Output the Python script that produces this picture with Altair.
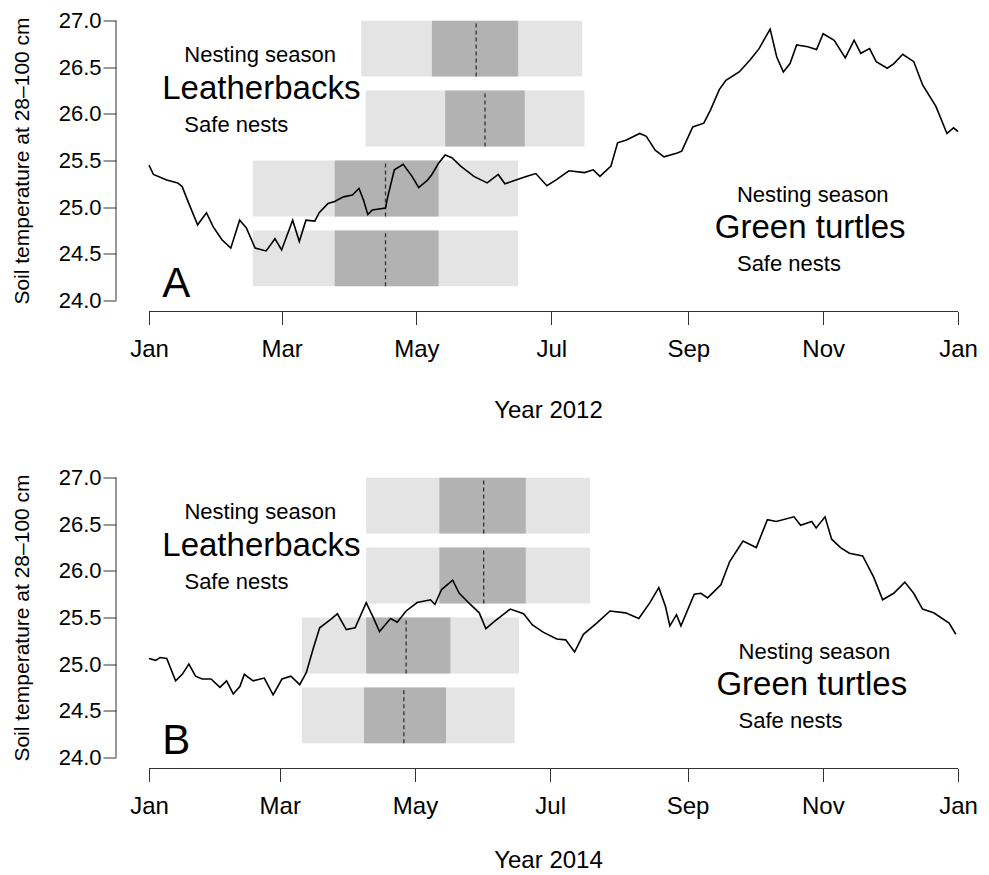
import altair as alt
import pandas as pd

# ---------------- data ----------------
# Panel A (2012): day offset from 1 Jan, soil temperature
day_2012 = [0, 2, 8, 13, 15, 18, 22, 26, 29, 33, 37, 41, 44, 48, 53, 57, 60, 65, 68, 71,
            75, 77, 81, 84, 88, 92, 95, 97, 99, 101, 107, 108, 111, 115, 119, 122, 126, 128, 131, 134,
            137, 141, 147, 153, 158, 161, 166, 171, 175, 180, 184, 190, 197, 201, 204, 209, 212, 216, 222, 225,
            229, 233, 239, 241, 246, 251, 254, 258, 261, 267, 272, 276, 281, 284, 287, 290, 293, 298, 302, 305,
            310, 315, 319, 322, 326, 329, 334, 337, 341, 346, 350, 356, 361, 364, 366]
temp_2012 = [25.45, 25.35, 25.29, 25.26, 25.22, 25.04, 24.81, 24.94, 24.79, 24.65, 24.56, 24.86, 24.78, 24.56, 24.53, 24.66, 24.54, 24.86, 24.63, 24.86,
             24.85, 24.94, 25.04, 25.06, 25.11, 25.13, 25.20, 25.08, 24.92, 24.97, 24.99, 25.11, 25.40, 25.46, 25.33, 25.21, 25.29, 25.35, 25.47, 25.56,
             25.53, 25.44, 25.33, 25.26, 25.35, 25.25, 25.29, 25.33, 25.36, 25.23, 25.29, 25.39, 25.37, 25.40, 25.33, 25.44, 25.69, 25.72, 25.79, 25.76,
             25.61, 25.54, 25.58, 25.60, 25.86, 25.90, 26.04, 26.26, 26.36, 26.45, 26.58, 26.70, 26.91, 26.61, 26.45, 26.54, 26.74, 26.72, 26.69, 26.86,
             26.79, 26.60, 26.79, 26.65, 26.70, 26.56, 26.49, 26.54, 26.64, 26.56, 26.31, 26.08, 25.79, 25.85, 25.81]

# Panel B (2014)
day_2014 = [0, 3, 5, 8, 12, 15, 18, 21, 24, 28, 32, 35, 38, 41, 43, 47, 52, 56, 60, 64,
            68, 71, 74, 77, 82, 85, 89, 93, 98, 101, 104, 109, 112, 116, 121, 127, 129, 132, 137, 140,
            145, 149, 152, 156, 163, 169, 173, 178, 184, 188, 192, 196, 202, 208, 215, 221, 226, 230, 233, 235,
            238, 240, 246, 249, 252, 258, 262, 268, 274, 279, 283, 291, 294, 299, 301, 305, 308, 312, 316, 322,
            327, 331, 336, 341, 345, 349, 354, 361, 364]
temp_2014 = [25.06, 25.04, 25.07, 25.06, 24.82, 24.89, 25.00, 24.87, 24.84, 24.84, 24.75, 24.82, 24.68, 24.76, 24.89, 24.82, 24.85, 24.67, 24.84, 24.87,
             24.78, 24.91, 25.16, 25.39, 25.48, 25.54, 25.37, 25.39, 25.66, 25.51, 25.35, 25.49, 25.45, 25.57, 25.66, 25.69, 25.64, 25.80, 25.90, 25.76,
             25.64, 25.55, 25.38, 25.46, 25.59, 25.54, 25.42, 25.34, 25.27, 25.26, 25.13, 25.32, 25.44, 25.57, 25.55, 25.49, 25.66, 25.82, 25.62, 25.41,
             25.53, 25.41, 25.75, 25.76, 25.71, 25.85, 26.10, 26.32, 26.25, 26.55, 26.53, 26.58, 26.49, 26.53, 26.46, 26.58, 26.34, 26.25, 26.19, 26.16,
             25.93, 25.69, 25.76, 25.88, 25.76, 25.59, 25.55, 25.44, 25.32]

# Bars: rows (bottom, top) in temperature units; order = leatherback season, leatherback safe, green season, green safe
box_bottom = [26.40, 25.65, 24.90, 24.15]
box_top = [27.00, 26.25, 25.50, 24.75]

light_start_2012 = ["2012-04-06", "2012-04-08", "2012-02-17", "2012-02-17"]
light_end_2012 = ["2012-07-15", "2012-07-16", "2012-06-16", "2012-06-16"]
dark_start_2012 = ["2012-05-08", "2012-05-14", "2012-03-25", "2012-03-25"]
dark_end_2012 = ["2012-06-16", "2012-06-19", "2012-05-11", "2012-05-11"]
median_2012 = ["2012-05-28", "2012-06-01", "2012-04-17", "2012-04-17"]

light_start_2014 = ["2014-04-09", "2014-04-09", "2014-03-11", "2014-03-11"]
light_end_2014 = ["2014-07-19", "2014-07-19", "2014-06-17", "2014-06-15"]
dark_start_2014 = ["2014-05-12", "2014-05-12", "2014-04-09", "2014-04-08"]
dark_end_2014 = ["2014-06-20", "2014-06-20", "2014-05-17", "2014-05-15"]
median_2014 = ["2014-06-01", "2014-06-01", "2014-04-27", "2014-04-26"]

# Annotations (day offset, temperature at baseline, font size)
ann_labels = ["Nesting season", "Leatherbacks", "Safe nests",
              "Nesting season", "Green turtles", "Safe nests"]
ann_day = [16, 6, 16, 266, 256, 266]
ann_temp = [26.56, 26.16, 25.81, 25.06, 24.67, 24.31]
ann_size = [22, 33, 22, 22, 33, 22]
letter_day = 6
letter_temp = 24.04

y_ticks = [24.0, 24.5, 25.0, 25.5, 26.0, 26.5, 27.0]
y_title = "Soil temperature at 28\u2013100 cm"

# ---------------- layout / style ----------------
W = 860
H = 302
Y_DOM = [23.88, 27.12]
FONT = "Liberation Sans, Arial, sans-serif"
NARROW = "Liberation Sans Narrow, Liberation Sans, Arial, sans-serif"
AXIS_COL = "#333333"
DAY_MS = 86400000


def ms(s):
    return int(pd.Timestamp(s, tz="UTC").value // 10**6)


def dstr(year, d):
    return (pd.Timestamp(f"{year}-01-01") + pd.Timedelta(days=d)).strftime("%Y-%m-%d")


def panel(year, days, temps, ls, le, ds, de, med, letter, title_y):
    ndays = 366 if year % 4 == 0 else 365
    ppd = 809.0 / ndays
    jan1 = ms(f"{year}-01-01")
    x0 = jan1 - 33.0 / ppd * DAY_MS
    x1 = x0 + W / ppd * DAY_MS
    xs = alt.Scale(type="utc", domain=[x0, x1])
    ys = alt.Scale(domain=Y_DOM, nice=False, zero=False)
    xticks = [ms(f"{year}-{m:02d}-01") for m in (1, 3, 5, 7, 9, 11)] + [ms(f"{year + 1}-01-01")]

    line_df = pd.DataFrame({"date": [dstr(year, d) for d in days], "temp": temps})
    box_df = pd.DataFrame({"ls": ls, "le": le, "ds": ds, "de": de, "med": med,
                           "y1": box_bottom, "y2": box_top})
    txt_df = pd.DataFrame({
        "date": [dstr(year, d) for d in ann_day] + [dstr(year, letter_day)],
        "temp": ann_temp + [letter_temp],
        "label": ann_labels + [letter],
        "size": ann_size + [42],
    })
    axis_df = pd.DataFrame({"xa": [f"{year}-01-01"], "xb": [f"{year + 1}-01-01"],
                            "ya": [y_ticks[0]], "yb": [y_ticks[-1]]})

    xaxis = alt.Axis(values=xticks, labelExpr="utcFormat(datum.value, '%b')",
                     domain=False, grid=False, tickSize=13, tickColor=AXIS_COL, tickWidth=1,
                     labelFont=NARROW, labelFontSize=24, labelColor="black", labelPadding=13,
                     labelFlush=False, labelOverlap=False,
                     title=f"Year {year}", titleFont=NARROW, titleFontSize=24,
                     titleFontWeight="normal", titleColor="black", titleX=432, titleY=title_y,
                     titleAlign="center", titleBaseline="alphabetic")
    yaxis = alt.Axis(values=y_ticks, format=".1f", domain=False, grid=False,
                     tickSize=13, tickColor=AXIS_COL, tickWidth=1,
                     labelFont=NARROW, labelFontSize=22, labelColor="black", labelPadding=2,
                     labelFlush=False, labelOverlap=False,
                     title=y_title, titleFont=FONT, titleFontSize=21, titleFontWeight="normal",
                     titleColor="black", titleX=-94, titleY=H / 2, titleAngle=270,
                     titleAlign="center", titleBaseline="middle")

    def X(field):
        return alt.X(field, scale=xs, axis=xaxis)

    def Y(field):
        return alt.Y(field, scale=ys, axis=yaxis)

    light = alt.Chart(box_df).mark_rect(color="#e4e4e4").encode(
        x=X("ls:T"), x2="le:T", y=Y("y1:Q"), y2="y2:Q")
    dark = alt.Chart(box_df).mark_rect(color="#b2b2b2").encode(
        x=X("ds:T"), x2="de:T", y=Y("y1:Q"), y2="y2:Q")
    mid = alt.Chart(box_df).mark_rule(color="#333333", strokeWidth=1.3, strokeDash=[4, 3]).encode(
        x=X("med:T"), y=Y("y1:Q"), y2="y2:Q")
    line = alt.Chart(line_df).mark_line(color="black", strokeWidth=1.6).encode(
        x=X("date:T"), y=Y("temp:Q"))
    texts = alt.Chart(txt_df).mark_text(align="left", baseline="alphabetic", font=FONT,
                                        color="black").encode(
        x=X("date:T"), y=Y("temp:Q"),
        text="label:N",
        size=alt.Size("size:Q", scale=None, legend=None))
    xline = alt.Chart(axis_df).mark_rule(color=AXIS_COL, strokeWidth=1).encode(
        x=X("xa:T"), x2="xb:T", y=alt.value(H))
    yline = alt.Chart(axis_df).mark_rule(color=AXIS_COL, strokeWidth=1).encode(
        x=alt.value(0), y=Y("ya:Q"), y2="yb:Q")

    return alt.layer(light, dark, mid, line, texts, xline, yline).properties(width=W, height=H)


panel_a = panel(2012, day_2012, temp_2012, light_start_2012, light_end_2012,
                dark_start_2012, dark_end_2012, median_2012, "A", 106)
panel_b = panel(2014, day_2014, temp_2014, light_start_2014, light_end_2014,
                dark_start_2014, dark_end_2014, median_2014, "B", 99)

chart = alt.vconcat(panel_a, panel_b, spacing=155, bounds="flush").properties(
    padding={"left": 3, "top": 1.5, "right": 0, "bottom": 4},
    background="white",
).configure_view(stroke=None)

chart.save("out.html", embed_options={"renderer": "svg", "actions": False})
